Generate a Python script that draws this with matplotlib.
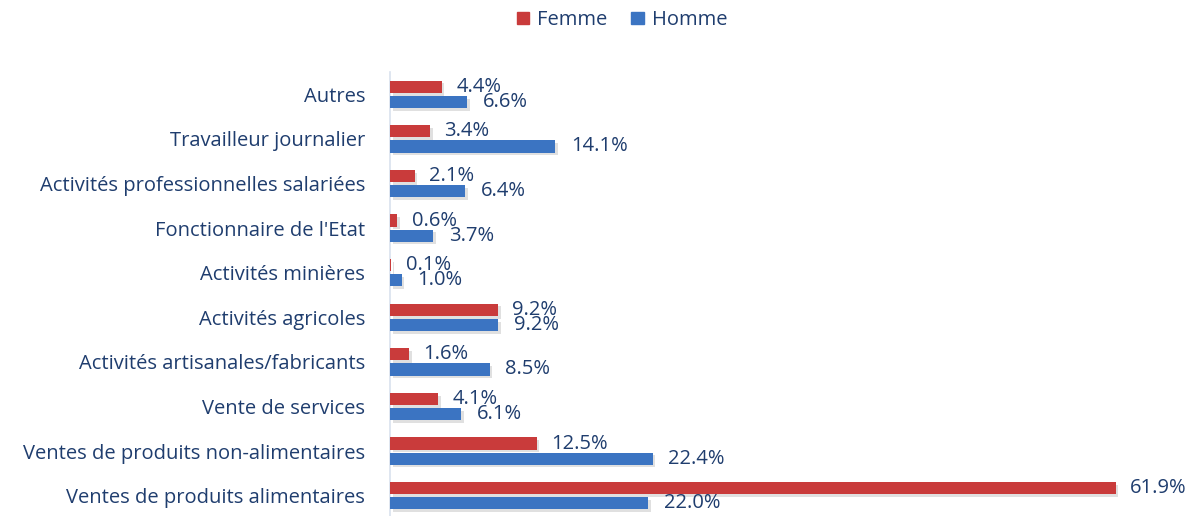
import matplotlib
matplotlib.use("Agg")
import matplotlib.pyplot as plt
import matplotlib.patheffects as pe
from matplotlib.patches import Patch
import numpy as np

categories = ["Autres", "Travailleur journalier", "Activités professionnelles salariées",
              "Fonctionnaire de l'Etat", "Activités minières", "Activités agricoles",
              "Activités artisanales/fabricants", "Vente de services",
              "Ventes de produits non-alimentaires", "Ventes de produits alimentaires"]
femme = [4.4, 3.4, 2.1, 0.6, 0.1, 9.2, 1.6, 4.1, 12.5, 61.9]
homme = [6.6, 14.1, 6.4, 3.7, 1.0, 9.2, 8.5, 6.1, 22.4, 22.0]

RED = "#C93B3B"
BLUE = "#3B74C2"
TXT = "#1F3D6E"
FONT = "Open Sans"

plt.rcParams['font.family'] = [FONT, 'DejaVu Sans']

fig = plt.figure(figsize=(11.95, 5.16), dpi=100)
ax = fig.add_axes([390/1195, -2/516, 797/1195, 446/516])

n = len(categories)
y = np.arange(n)[::-1]
off = 0.17
h = 0.27
shadow = [pe.SimplePatchShadow(offset=(2, -2), shadow_rgbFace="#999999", alpha=0.3), pe.Normal()]
ax.barh(y + off, femme, height=h, color=RED, path_effects=shadow, zorder=3)
ax.barh(y - off, homme, height=h, color=BLUE, path_effects=shadow, zorder=3)

LBL = 14.5
for yy, v in zip(y + off, femme):
    ax.text(v + 1.25, yy, f"{v:.1f}%", va="center", ha="left", fontsize=LBL, color=TXT, zorder=4)
for yy, v in zip(y - off, homme):
    ax.text(v + 1.35, yy, f"{v:.1f}%", va="center", ha="left", fontsize=LBL, color=TXT, zorder=4)

ax.set_xlim(0, 68)
ax.set_ylim(-0.5, n - 0.5)
ax.set_yticks(y)
ax.set_yticklabels(categories, fontsize=14.5, color=TXT)
ax.tick_params(axis="y", length=0, pad=18)
ax.set_xticks([])
for s in ["top", "right", "bottom"]:
    ax.spines[s].set_visible(False)
ax.spines["left"].set_color("#D9E1EE")
ax.spines["left"].set_linewidth(1.2)

handles = [Patch(color=RED, label="Femme"), Patch(color=BLUE, label="Homme")]
fig.legend(handles=handles, loc="center", bbox_to_anchor=(622/1195, 1 - 20/516), ncol=2,
           frameon=False, fontsize=14.5, handlelength=0.6, handleheight=0.6,
           handletextpad=0.4, columnspacing=1.2, labelcolor=TXT)

fig.savefig("out.png", dpi=100)
